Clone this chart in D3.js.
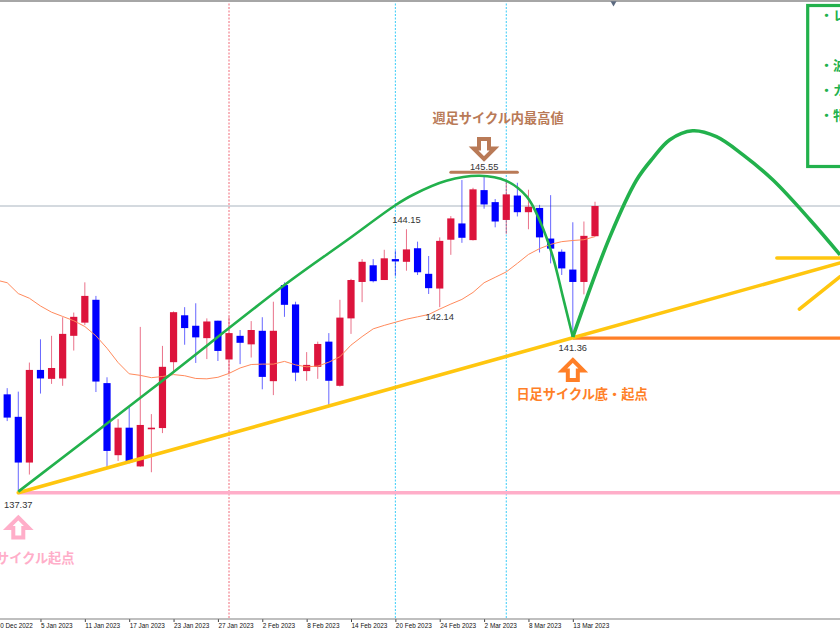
<!DOCTYPE html>
<html><head><meta charset="utf-8">
<style>html,body{margin:0;padding:0;background:#fff;overflow:hidden}svg{display:block}</style>
<script src="https://cdn.jsdelivr.net/npm/d3@7"></script></head><body>
<svg id="c" width="840" height="630"></svg>
<script>
// Candle data
const open  = [139.89,139.31,138.13,140.52,140.29,140.30,141.40,141.74,142.33,140.18,138.32,139.03,138.03,139.00,139.02,140.72,141.93,141.66,141.34,141.79,140.79,141.40,141.18,141.53,140.23,142.71,142.21,140.49,140.60,141.25,140.11,141.85,142.79,143.22,142.84,143.38,143.31,143.66,143.00,142.62,143.88,144.30,143.87,145.16,144.85,144.39,145.02,144.59,144.70,143.91,143.57,143.11,142.79,143.97];
const close = [139.29,138.13,140.52,140.30,140.57,141.45,141.89,142.43,140.22,138.43,139.03,138.14,139.10,139.03,140.60,142.01,141.60,141.36,141.77,141.01,141.47,141.22,141.55,140.34,141.53,142.20,140.45,140.65,141.19,140.24,141.87,142.84,143.31,142.81,143.40,143.32,143.63,143.04,142.63,143.85,144.43,143.93,145.18,144.79,144.35,145.05,144.59,144.73,143.94,143.65,143.14,142.79,143.98,144.75];
const high  = [140.05,139.96,140.71,141.31,141.40,141.88,142.00,142.78,142.43,140.33,139.25,139.56,141.63,139.38,141.14,142.03,142.14,142.24,141.85,141.79,141.89,141.55,141.78,141.88,142.28,142.78,142.28,140.98,141.25,141.47,142.33,142.87,143.38,143.38,143.62,143.60,144.15,143.83,143.46,143.94,144.49,145.42,145.22,145.55,144.93,145.40,145.35,145.17,144.78,145.03,143.63,144.33,144.35,144.86];
const low   = [139.20,137.37,137.82,139.91,140.16,140.11,141.02,141.68,139.95,137.98,138.17,138.11,138.02,137.88,138.89,140.43,141.17,140.70,140.80,140.75,140.43,140.67,140.84,140.02,139.87,141.89,140.23,140.24,140.29,139.60,140.09,141.45,142.27,142.78,142.84,142.94,143.08,142.97,142.48,142.14,143.49,143.80,143.86,144.68,144.20,144.03,144.48,144.15,143.55,143.27,142.97,141.36,142.47,143.96];
const movingAverage = [142.77,142.49,142.37,142.17,142.01,141.90,141.79,141.64,141.40,141.08,140.71,140.42,140.38,140.32,140.35,140.40,140.37,140.30,140.29,140.33,140.43,140.57,140.66,140.67,140.67,140.74,140.65,140.60,140.62,140.72,140.86,141.16,141.38,141.58,141.67,141.75,141.83,141.89,141.95,142.09,142.22,142.34,142.52,142.77,142.91,143.05,143.27,143.50,143.65,143.76,143.83,143.86,143.88,143.96];
const maBefore = 142.84;

const tickBars   = [-1,3,7,11,15,19,23,27,31,35,39,43,47,51];
const tickLabels = ["30 Dec 2022","5 Jan 2023","11 Jan 2023","17 Jan 2023","23 Jan 2023","27 Jan 2023","2 Feb 2023","8 Feb 2023","14 Feb 2023","20 Feb 2023","24 Feb 2023","2 Mar 2023","8 Mar 2023","13 Mar 2023"];

// Drawn trend lines as [bar index, price]
const weeklyCurve = [[1,137.38],[13,140.02],[25,142.71],[30.6,143.86],[35,144.77],[36.6,145.04],[39.6,145.40],[42.6,145.53],[45,145.40],[46.85,144.99],[48.05,144.35],[49.2,143.44],[50.1,142.41],[51,141.37]];
const forecastCurve = [[51,141.37],[54.35,143.96],[56.75,145.42],[58.2,145.98],[59.75,146.46],[61.8,146.69],[63.95,146.54],[66.35,146.07],[69.05,145.42],[72.4,144.39],[75.1,143.49]];
const yellowLines = [[[1,137.35],[75.1,143.28]],[[69.4,143.41],[75.1,143.41]],[[71.43,142.09],[75.1,142.93]]];
const pinkLine = [[1,137.35],[75.1,137.35]];
const orangeLine = [[51,141.34],[75.1,141.34]];
const peakBar = [[40,145.62],[46,145.62]];
const redVLine = 20;
const blueVLines = [35,45];

const priceLabels = [[1,137.37,"137.37",16],[51,141.36,"141.36",14],[39,142.14,"142.14",13],[36,144.15,"144.15",-6],[43,145.55,"145.55",-5]];
const boxChars = [["・レ",20],["・波",70],["・カ",95],["・牝",120]];

const x = d3.scaleLinear().domain([0,53]).range([7.2,595]);
const y = d3.scaleLinear().domain([137.37,145.55]).range([492,175]);
const svg = d3.select("#c");
const UP="#dc143c", DOWN="#0000ff", GREEN="#22b14c", YELLOW="#ffc60f", PINK="#ffaec9", ORANGE="#ff7f27", BROWN="#b97a57";
const line = d3.line().x(d=>x(d[0])).y(d=>y(d[1]));
const bottom = 619;

// vertical period separators
svg.append("line").attr("x1",x(redVLine)).attr("x2",x(redVLine)).attr("y1",0).attr("y2",bottom)
  .attr("stroke","#f06a78").attr("stroke-width",1).attr("stroke-dasharray","2,1.5");
svg.selectAll(".bv").data(blueVLines).join("line").attr("x1",d=>x(d)).attr("x2",d=>x(d)).attr("y1",0).attr("y2",bottom)
  .attr("stroke","#38ccf8").attr("stroke-width",1).attr("stroke-dasharray","2,1.5");

// current price line
svg.append("line").attr("x1",0).attr("x2",840).attr("y1",y(close[53])).attr("y2",y(close[53]))
  .attr("stroke","#a9b4bf").attr("stroke-width",1);

// frame / axis
svg.append("rect").attr("x",0).attr("y",0).attr("width",840).attr("height",2).attr("fill","#a6a6a6");
svg.append("path").attr("d",d3.symbol(d3.symbolTriangle,16)()).attr("transform","translate(613.5,3) rotate(180)").attr("fill","#5c6a80");
const ax = d3.axisBottom(x).tickValues(tickBars).tickFormat((d,i)=>tickLabels[i]).tickSize(3).tickPadding(1);
const gAx = svg.append("g").attr("transform",`translate(0,${bottom})`).call(ax);
gAx.select(".domain").remove();
gAx.selectAll("line").attr("stroke","#444");
gAx.selectAll("text").attr("text-anchor","start").attr("font-family","Liberation Sans").attr("font-size",6.4).attr("fill","#111");
svg.append("line").attr("x1",0).attr("x2",840).attr("y1",bottom).attr("y2",bottom).attr("stroke","#808080").attr("stroke-width",1.2);

// candles
const bars = d3.range(open.length);
const col = i => close[i]>=open[i]?UP:DOWN;
svg.selectAll(".wick").data(bars).join("line").attr("x1",x).attr("x2",x)
  .attr("y1",i=>y(high[i])).attr("y2",i=>y(low[i])).attr("stroke",col).attr("stroke-opacity",.6).attr("stroke-width",1);
svg.selectAll(".body").data(bars).join("rect").attr("x",i=>x(i)-3.6).attr("width",7.2)
  .attr("y",i=>y(Math.max(open[i],close[i]))).attr("height",i=>Math.max(1.6,Math.abs(y(open[i])-y(close[i])))).attr("fill",col);

// moving average
svg.append("path").datum([[-1,maBefore]].concat(movingAverage.map((v,i)=>[i,v]))).attr("d",line)
  .attr("fill","none").attr("stroke","#ff8a5c").attr("stroke-width",1);

// drawn lines
svg.append("path").datum(pinkLine).attr("d",line).attr("stroke",PINK).attr("stroke-width",3.4).attr("fill","none");
svg.append("path").datum(orangeLine).attr("d",line).attr("stroke",ORANGE).attr("stroke-width",3.4).attr("fill","none");
svg.selectAll(".yl").data(yellowLines).join("path").attr("d",line).attr("stroke",YELLOW).attr("stroke-width",3.6).attr("fill","none").attr("stroke-linecap","round");
svg.append("path").datum(peakBar).attr("d",line).attr("stroke",BROWN).attr("stroke-width",3).attr("stroke-linecap","round").attr("fill","none");
const curve = d3.line().x(d=>x(d[0])).y(d=>y(d[1])).curve(d3.curveCatmullRom.alpha(.5));
svg.append("path").datum(weeklyCurve).attr("d",curve).attr("stroke",GREEN).attr("stroke-width",2.6).attr("fill","none");
svg.append("path").datum(forecastCurve).attr("d",curve).attr("stroke",GREEN).attr("stroke-width",3.6).attr("fill","none");

// price labels
svg.selectAll(".pl").data(priceLabels).join("text").attr("x",d=>x(d[0])).attr("y",d=>y(d[1])+d[3]).text(d=>d[2])
  .attr("text-anchor","middle").attr("font-family","Liberation Sans").attr("font-size",9.3).attr("fill","#333");

// arrows (shape relative to anchor)
function arrow(cx,tipY,dir,color){
  const p=[[0,0],[10.5,10.5],[5,10.5],[5,20],[-5,20],[-5,10.5],[-10.5,10.5]].map(d=>[cx+d[0],tipY+dir*d[1]]);
  svg.append("path").attr("d",d3.line()(p)+"Z").attr("fill","#fff").attr("stroke",color).attr("stroke-width",4).attr("stroke-linejoin","miter");
}
arrow(x(1),517.5,1,PINK);
arrow(x(51),360,1,ORANGE);
arrow(484,159,-1,BROWN);

// captions
const cap=(t,px,py,anchor,color)=>svg.append("text").attr("x",px).attr("y",py).text(t).attr("text-anchor",anchor)
  .attr("font-family","Noto Sans CJK JP").attr("font-weight",700).attr("font-size",13.2).attr("fill",color);
cap("週足サイクル内最高値",498,123,"middle",BROWN);
cap("日足サイクル底・起点",582,399,"middle",ORANGE);
cap("週足サイクル起点",74.5,563,"end",PINK);

// note box
svg.append("rect").attr("x",807.7).attr("y",5.5).attr("width",80).attr("height",161).attr("fill","#fff").attr("stroke",GREEN).attr("stroke-width",3.2);
svg.selectAll(".bc").data(boxChars).join("text").attr("x",820).attr("y",d=>d[1]).text(d=>d[0])
  .attr("font-family","Noto Sans CJK JP").attr("font-weight",700).attr("font-size",13).attr("fill",GREEN);
</script></body></html>
